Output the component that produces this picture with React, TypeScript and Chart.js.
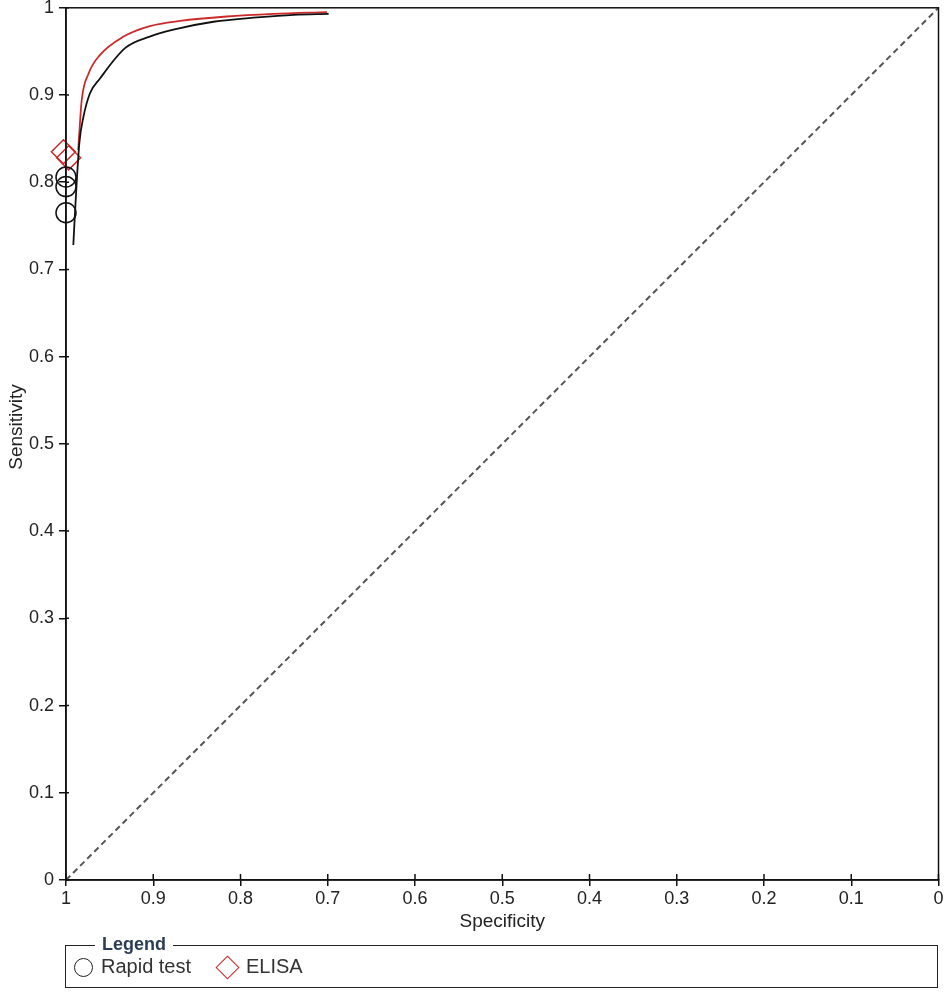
import React, { useEffect, useRef } from "react";
import { Chart, registerables } from "chart.js";

Chart.register(...registerables);

// Summary ROC curve – Rapid test
const rapidCurveSpec = [0.9916, 0.9897, 0.9847, 0.98, 0.9725, 0.961, 0.932, 0.904, 0.877, 0.831, 0.781, 0.739, 0.699];
const rapidCurveSens = [0.728, 0.765, 0.845, 0.875, 0.902, 0.919, 0.954, 0.967, 0.975, 0.984, 0.989, 0.992, 0.993];
// Summary ROC curve – ELISA
const elisaCurveSpec = [0.986, 0.982, 0.974, 0.961, 0.934, 0.904, 0.869, 0.816, 0.762, 0.701];
const elisaCurveSens = [0.837, 0.894, 0.925, 0.946, 0.967, 0.979, 0.985, 0.99, 0.993, 0.995];
// Study points
const rapidPointSpec = [1.0, 1.0, 1.0];
const rapidPointSens = [0.806, 0.795, 0.765];
const elisaPointSpec = [1.003, 0.997];
const elisaPointSens = [0.835, 0.828];
// Reference diagonal
const diagSpec = [1, 0];
const diagSens = [0, 1];
// Tick values
const tickValues = [0, 0.1, 0.2, 0.3, 0.4, 0.5, 0.6, 0.7, 0.8, 0.9, 1];

const seriesLabels = ["Rapid test", "ELISA"];
const xTitle = "Specificity";
const yTitle = "Sensitivity";

const FONT = "'Liberation Sans', Arial, sans-serif";
const RED = "#cc2a2a";

// canvas is slightly larger than the page and shifted so the plot area lands where wanted
const CW = 952;
const CH = 1005;
const SHIFT_Y = 8;

const zip = (xs: number[], ys: number[]) => xs.map((x, i) => ({ x, y: ys[i] }));

export default function App() {
  const ref = useRef<HTMLCanvasElement | null>(null);

  useEffect(() => {
    if (!ref.current) return;
    const framePlugin = {
      id: "frame",
      afterDraw(chart: any) {
        const { ctx, chartArea } = chart;
        const { left, top, right, bottom } = chartArea;
        ctx.save();
        ctx.strokeStyle = "#111";
        ctx.lineWidth = 1.5;
        ctx.strokeRect(left, top, right - left, bottom - top);
        // inward tick stubs
        ctx.beginPath();
        const xs = chart.scales.x;
        const ys = chart.scales.y;
        tickValues.forEach((v) => {
          const px = xs.getPixelForValue(v);
          ctx.moveTo(px, bottom);
          ctx.lineTo(px, bottom - 6);
          const py = ys.getPixelForValue(v);
          ctx.moveTo(left, py);
          ctx.lineTo(left + 3, py);
        });
        ctx.stroke();
        // y title
        ctx.translate(17, 427 + SHIFT_Y);
        ctx.rotate(-Math.PI / 2);
        ctx.fillStyle = "#222";
        ctx.font = `19px ${FONT}`;
        ctx.textAlign = "center";
        ctx.textBaseline = "middle";
        ctx.fillText(yTitle, 0, 0);
        ctx.restore();
      },
    };

    const fmt = (v: any) => String(Number(Number(v).toFixed(1)));

    const chart = new Chart(ref.current, {
      type: "scatter",
      data: {
        datasets: [
          {
            label: "diag",
            data: zip(diagSpec, diagSens),
            showLine: true,
            borderColor: "#555",
            borderWidth: 2,
            borderDash: [6, 4],
            pointRadius: 0,
          },
          {
            label: seriesLabels[0] + " curve",
            data: zip(rapidCurveSpec, rapidCurveSens),
            showLine: true,
            borderColor: "#111",
            borderWidth: 1.8,
            pointRadius: 0,
            cubicInterpolationMode: "monotone",
          },
          {
            label: seriesLabels[1] + " curve",
            data: zip(elisaCurveSpec, elisaCurveSens),
            showLine: true,
            borderColor: RED,
            borderWidth: 1.8,
            pointRadius: 0,
            cubicInterpolationMode: "monotone",
          },
          {
            label: seriesLabels[0],
            data: zip(rapidPointSpec, rapidPointSens),
            pointStyle: "circle",
            pointRadius: 10,
            borderColor: "#111",
            borderWidth: 1.5,
            backgroundColor: "rgba(0,0,0,0)",
            clip: false as any,
          },
          {
            label: seriesLabels[1],
            data: zip(elisaPointSpec, elisaPointSens),
            pointStyle: "rectRot",
            pointRadius: 12,
            borderColor: RED,
            borderWidth: 1.5,
            backgroundColor: "rgba(0,0,0,0)",
            clip: false as any,
          },
        ],
      },
      options: {
        animation: false,
        responsive: false,
        devicePixelRatio: 1,
        layout: { padding: 0 },
        plugins: { legend: { display: false }, tooltip: { enabled: false } },
        scales: {
          x: {
            type: "linear",
            reverse: true,
            min: 0,
            max: 1,
            afterBuildTicks: (s: any) => {
              s.ticks = tickValues.map((v) => ({ value: v }));
            },
            afterFit: (s: any) => {
              s.height = 117;
            },
            ticks: {
              callback: fmt,
              color: "#222",
              font: { family: FONT, size: 18 },
              padding: 2,
              maxRotation: 0,
              autoSkip: false,
            },
            grid: { drawOnChartArea: false, drawTicks: true, tickLength: 6, color: "#111", lineWidth: 1.5 },
            border: { display: true, color: "#111", width: 1.5 },
            title: {
              display: true,
              text: xTitle,
              color: "#222",
              font: { family: FONT, size: 19 },
              padding: { top: 0, bottom: 64 },
            },
          },
          y: {
            type: "linear",
            min: 0,
            max: 1,
            afterBuildTicks: (s: any) => {
              s.ticks = tickValues.map((v) => ({ value: v }));
            },
            afterFit: (s: any) => {
              s.width = 66;
            },
            ticks: {
              callback: fmt,
              color: "#222",
              font: { family: FONT, size: 18 },
              padding: 5,
              autoSkip: false,
            },
            grid: { drawOnChartArea: false, drawTicks: true, tickLength: 7, color: "#111", lineWidth: 1.5 },
            border: { display: true, color: "#111", width: 1.5 },
            title: { display: false },
          },
        },
      },
      plugins: [framePlugin],
    } as any);
    return () => chart.destroy();
  }, []);

  return (
    <div style={{ position: "absolute", left: 0, top: 0, width: 945, height: 997, background: "#fff", overflow: "hidden" }}>
      <canvas
        ref={ref}
        width={CW}
        height={CH}
        style={{ position: "absolute", left: 0, top: -SHIFT_Y, width: CW, height: CH, display: "block" }}
      />
      <div
        style={{
          position: "absolute",
          left: 65,
          top: 945,
          width: 873,
          height: 43,
          border: "1.5px solid #222",
          boxSizing: "border-box",
          fontFamily: FONT,
        }}
      >
        <div
          style={{
            position: "absolute",
            left: 29,
            top: -12,
            padding: "0 7px",
            background: "#fff",
            fontWeight: "bold",
            fontSize: 18,
            lineHeight: "20px",
            color: "#2b3d55",
          }}
        >
          Legend
        </div>
        <div
          style={{
            position: "absolute",
            left: 8,
            top: 12,
            width: 19,
            height: 19,
            borderRadius: "50%",
            border: "1.5px solid #222",
            boxSizing: "border-box",
          }}
        />
        <div style={{ position: "absolute", left: 35, top: 9, fontSize: 20, lineHeight: "22px", color: "#333" }}>
          {seriesLabels[0]}
        </div>
        <div
          style={{
            position: "absolute",
            left: 153,
            top: 13,
            width: 17,
            height: 17,
            transform: "rotate(45deg)",
            border: `1.5px solid ${RED}`,
            boxSizing: "border-box",
          }}
        />
        <div style={{ position: "absolute", left: 180, top: 9, fontSize: 20, lineHeight: "22px", color: "#333" }}>
          {seriesLabels[1]}
        </div>
      </div>
    </div>
  );
}
